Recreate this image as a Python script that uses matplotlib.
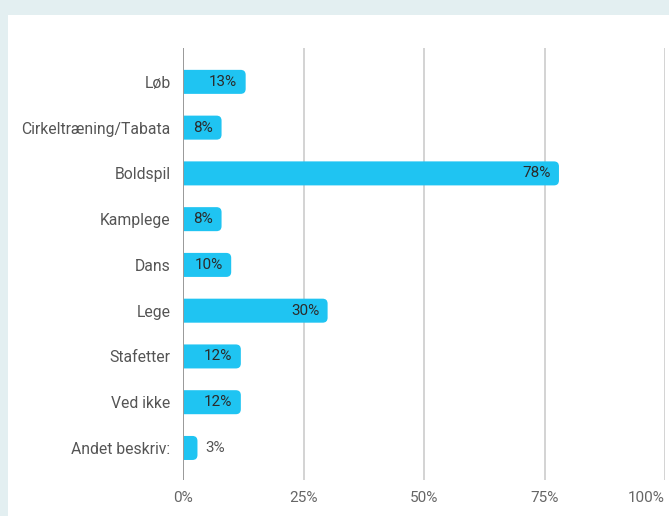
import matplotlib
matplotlib.use("Agg")
import matplotlib.pyplot as plt
from matplotlib.patches import FancyBboxPatch, Rectangle

categories = ["Løb", "Cirkeltræning/Tabata", "Boldspil", "Kamplege", "Dans",
              "Lege", "Stafetter", "Ved ikke", "Andet beskriv:"]
values = [13, 8, 78, 8, 10, 30, 12, 12, 3]
xticks = [0, 25, 50, 75, 100]
xtick_labels = ["0%", "25%", "50%", "75%", "100%"]

plt.rcParams['font.family'] = ['Roboto', 'DejaVu Sans']

W, H = 669, 516
fig = plt.figure(figsize=(W / 100, H / 100), dpi=100)
fig.patch.set_facecolor("#e3eff1")
fig.patches.append(Rectangle((8 / W, 0), 1 - 8 / W, 1 - 15 / H,
                             transform=fig.transFigure, facecolor="white",
                             edgecolor="none", zorder=-5))

ax = fig.add_axes([183 / W, 1 - 480 / H, (665 - 183) / W, (480 - 48) / H])
ax.set_facecolor("none")
ax.set_xlim(0, 100)
n = len(categories)
ax.set_ylim(n - 1 + 0.7, -0.74)

bar_color = "#1fc4f2"
bh = 24 / 45.75
px_x = 100 / 482.0
px_y = 1 / 45.75
r_px = 5
r = r_px * px_x
aspect = px_y / px_x

for i, v in enumerate(values):
    # extend left past the axis so the left rounded corners are clipped away
    p = FancyBboxPatch((-2 * r, i - bh / 2), v + 2 * r, bh,
                       boxstyle=f"round,pad=0,rounding_size={r}",
                       mutation_aspect=aspect, facecolor=bar_color,
                       edgecolor="none", zorder=3)
    ax.add_patch(p)
    if v >= 5:
        ax.annotate(f"{v}%", (v, i), xytext=(-6, 0), textcoords="offset points",
                    ha="right", va="center", fontsize=11, color="#2b2b2b", zorder=4)
    else:
        ax.annotate(f"{v}%", (v, i), xytext=(6, 0), textcoords="offset points",
                    ha="left", va="center", fontsize=11, color="#555555", zorder=4)

ax.set_yticks(range(n))
ax.set_yticklabels(categories, fontsize=11.3, color="#555555")
ax.set_xticks(xticks)
ax.set_xticklabels(xtick_labels, fontsize=11, color="#666666")
ax.get_xticklabels()[-1].set_ha("right")
ax.tick_params(axis="both", length=0)
ax.tick_params(axis="y", pad=9)
ax.tick_params(axis="x", pad=8)

for t in xticks[1:]:
    ax.axvline(t, color="#cccccc", lw=1.2, zorder=1)
ax.axvline(0, color="#999999", lw=1.4, zorder=5)

for s in ax.spines.values():
    s.set_visible(False)

fig.savefig("out.png", dpi=100, facecolor=fig.get_facecolor())
